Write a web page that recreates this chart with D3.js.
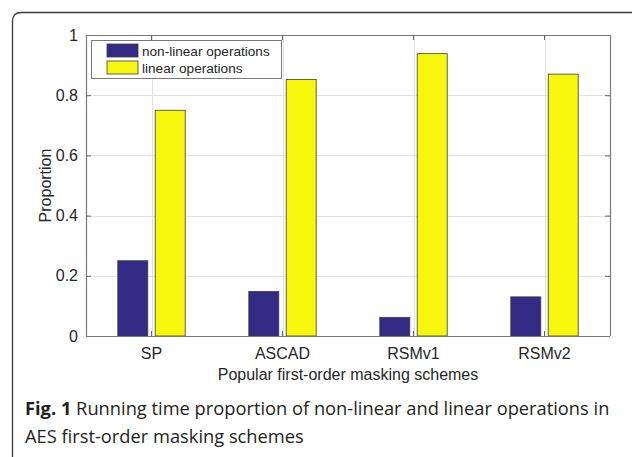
<!DOCTYPE html>
<html>
<head>
<meta charset="utf-8">
<script src="https://cdn.jsdelivr.net/npm/d3@7"></script>
<style>
  html, body { margin: 0; padding: 0; background: #fff; }
  svg { display: block; }
</style>
</head>
<body>
<svg id="chart" width="632" height="457"></svg>
<script>
// Scheme names along the x axis
const categories = ["SP", "ASCAD", "RSMv1", "RSMv2"];
// Series names shown in the legend
const seriesNames = ["non-linear operations", "linear operations"];
// Running-time proportions per scheme
const nonLinear = [0.25, 0.148, 0.062, 0.13];
const linear = [0.75, 0.852, 0.938, 0.87];
// Y axis tick values
const yTicks = [0, 0.2, 0.4, 0.6, 0.8, 1];

const colors = ["#332a86", "#f6f70c"];
const seriesValues = [nonLinear, linear];

const svg = d3.select("#chart");
const chartFont = "'Liberation Sans', Arial, Helvetica, sans-serif";

// Plot area
const plotL = 86, plotR = 610, plotT = 35, plotB = 336;

const x0 = d3.scaleBand().domain(categories).range([plotL, plotR]).padding(0);
const x1 = d3.scaleBand().domain(seriesNames).range([0, x0.bandwidth()])
  .paddingInner(0.198).paddingOuter(0.85);
const y = d3.scaleLinear().domain([0, 1]).range([plotB, plotT]);

// Figure frame (open at the right and bottom)
svg.append("path")
  .attr("d", "M12.5,457 L12.5,21 Q12.5,12.5 21,12.5 L632,12.5")
  .attr("fill", "none").attr("stroke", "#3a3a3a").attr("stroke-width", 1.3);

// Grid lines
const grid = svg.append("g").attr("stroke", "#e2e2e2").attr("stroke-width", 1);
grid.selectAll("line.h").data(yTicks.filter(t => t > 0 && t < 1)).join("line")
  .attr("class", "h")
  .attr("x1", plotL).attr("x2", plotR)
  .attr("y1", d => Math.round(y(d)) + 0.5).attr("y2", d => Math.round(y(d)) + 0.5);
grid.selectAll("line.v").data(categories).join("line")
  .attr("class", "v")
  .attr("x1", d => Math.round(x0(d) + x0.bandwidth() / 2) + 0.5)
  .attr("x2", d => Math.round(x0(d) + x0.bandwidth() / 2) + 0.5)
  .attr("y1", plotT).attr("y2", plotB);

// Bars
const groups = svg.append("g").selectAll("g").data(categories).join("g")
  .attr("transform", d => `translate(${x0(d)},0)`);
groups.selectAll("rect")
  .data((c, i) => seriesNames.map((s, k) => ({ s, k, v: seriesValues[k][i] })))
  .join("rect")
  .attr("x", d => x1(d.s))
  .attr("width", x1.bandwidth())
  .attr("y", d => y(d.v))
  .attr("height", d => y(0) - y(d.v))
  .attr("fill", d => colors[d.k])
  .attr("stroke", "#3c3c3c").attr("stroke-width", 0.8);

// Axes: left, bottom, right, top (ticks point inward)
const tickLen = 5;
const axisColor = "#7a7a7a";
const yAxis = svg.append("g").attr("transform", `translate(${plotL},0)`)
  .call(d3.axisLeft(y).tickValues(yTicks).tickFormat(d3.format("~g")).tickSizeInner(-tickLen).tickSizeOuter(0).tickPadding(8));
const yAxisR = svg.append("g").attr("transform", `translate(${plotR},0)`)
  .call(d3.axisRight(y).tickValues(yTicks).tickFormat("").tickSizeInner(-tickLen).tickSizeOuter(0));
const xAxis = svg.append("g").attr("transform", `translate(0,${plotB})`)
  .call(d3.axisBottom(x0).tickSizeInner(-tickLen).tickSizeOuter(0).tickPadding(12));
const xAxisT = svg.append("g").attr("transform", `translate(0,${plotT})`)
  .call(d3.axisTop(x0).tickFormat("").tickSizeInner(-tickLen).tickSizeOuter(0));

[yAxis, yAxisR, xAxis, xAxisT].forEach(a => {
  a.select(".domain").attr("stroke", axisColor).attr("stroke-width", 1.2);
  a.selectAll(".tick line").attr("stroke", "#666");
  a.selectAll("text").attr("font-family", chartFont).attr("font-size", 16).attr("fill", "#262626");
});
// axis lines span the full box
yAxis.select(".domain").attr("d", `M0.5,${plotT}V${plotB}`);
yAxisR.select(".domain").attr("d", `M0.5,${plotT}V${plotB}`);
xAxis.select(".domain").attr("d", `M${plotL},0.5H${plotR}`);
xAxisT.select(".domain").attr("d", `M${plotL},0.5H${plotR}`);

// Axis titles
svg.append("text")
  .attr("transform", `translate(51,${(plotT + plotB) / 2}) rotate(-90)`)
  .attr("text-anchor", "middle")
  .attr("font-family", chartFont).attr("font-size", 16).attr("fill", "#262626")
  .text("Proportion");
svg.append("text")
  .attr("x", (plotL + plotR) / 2).attr("y", 380)
  .attr("text-anchor", "middle")
  .attr("font-family", chartFont).attr("font-size", 16).attr("fill", "#262626")
  .text("Popular first-order masking schemes");

// Legend
const legend = svg.append("g");
legend.append("rect")
  .attr("x", 91.5).attr("y", 40.5).attr("width", 190).attr("height", 38)
  .attr("fill", "#fff").attr("stroke", "#7a7a7a").attr("stroke-width", 1);
const items = legend.selectAll("g").data(seriesNames).join("g")
  .attr("transform", (d, i) => `translate(107,${44 + i * 17})`);
items.append("rect")
  .attr("width", 31).attr("height", 13)
  .attr("fill", (d, i) => colors[i]).attr("stroke", "#3c3c3c").attr("stroke-width", 0.8);
items.append("text")
  .attr("x", 35).attr("y", 11.5)
  .attr("font-family", chartFont).attr("font-size", 13.6).attr("fill", "#262626")
  .text(d => d);

// Caption
const capFont = "'Open Sans', 'Noto Sans', sans-serif";
const cap1 = svg.append("text")
  .attr("x", 25).attr("y", 415)
  .attr("font-family", capFont).attr("font-size", 18.3).attr("fill", "#231f20");
cap1.append("tspan").attr("font-weight", "bold").text("Fig. 1");
cap1.append("tspan").text(" Running time proportion of non-linear and linear operations in");
svg.append("text")
  .attr("x", 25).attr("y", 443)
  .attr("font-family", capFont).attr("font-size", 18.3).attr("fill", "#231f20")
  .text("AES first-order masking schemes");
</script>
</body>
</html>
